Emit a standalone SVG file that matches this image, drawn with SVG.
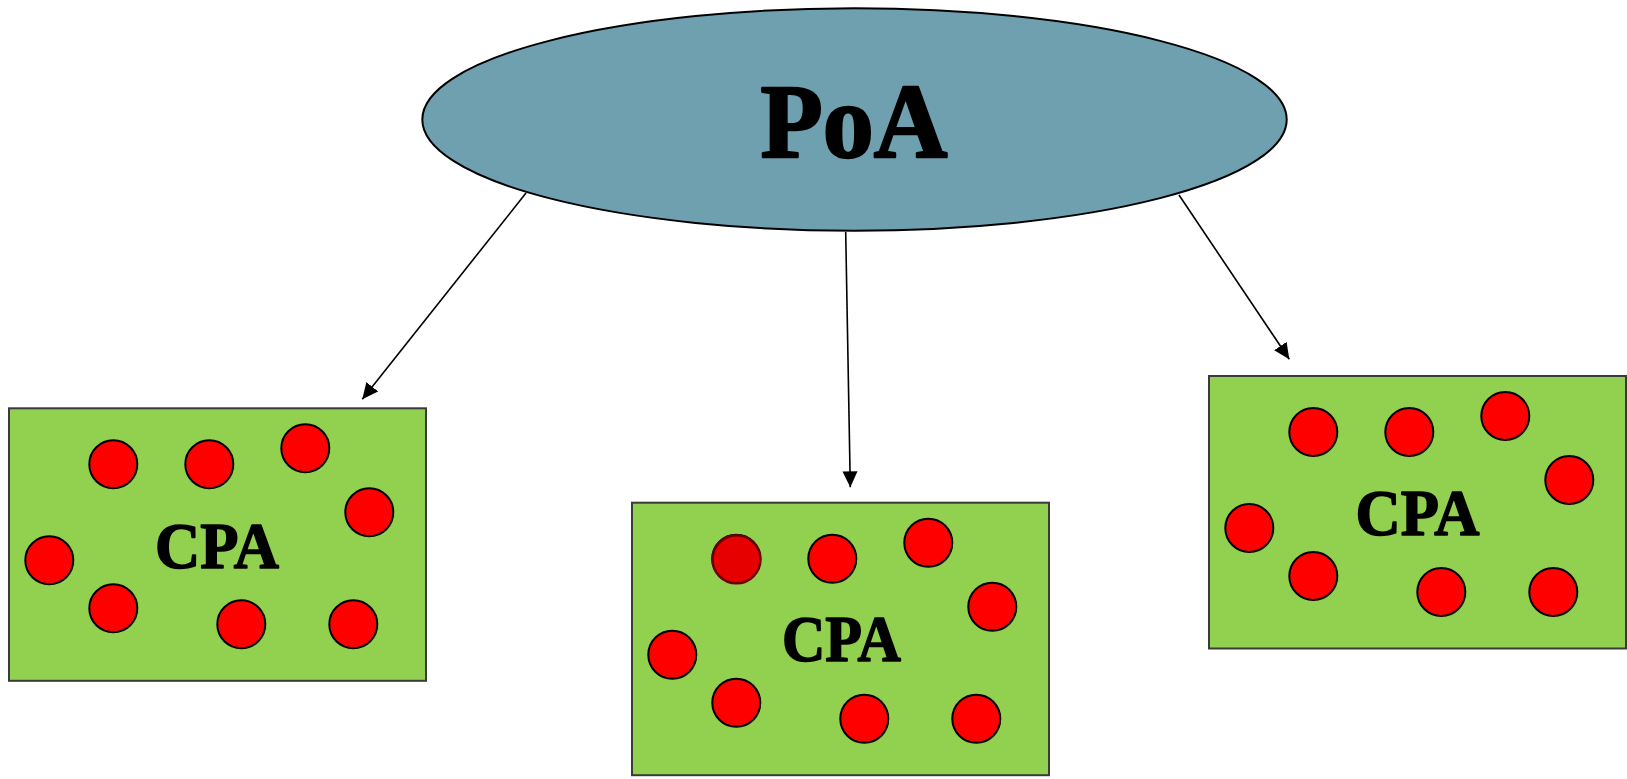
<svg xmlns="http://www.w3.org/2000/svg" width="1627" height="779" viewBox="0 0 1627 779">
<style>
.box{fill:#92d050;stroke:#3a3a3a;stroke-width:2}
.dot{fill:#ff0000;stroke:#000;stroke-width:2}
.lbl{font-family:"Liberation Serif","Times New Roman",serif;font-weight:bold;fill:#000;stroke:#000;text-anchor:middle;stroke-linejoin:round}
.conn{stroke:#000;stroke-width:1.6;fill:none}
</style>
<defs>
<marker id="ah" markerUnits="userSpaceOnUse" markerWidth="16" markerHeight="16" refX="16" refY="7.5" orient="auto">
<path d="M0,0 L16,7.5 L0,15 z" fill="#000"/>
</marker>
<g id="cpa-body">
<rect class="box" x="0" y="0" width="417" height="272.5"/>
<circle class="dot" cx="104.3" cy="56" r="24"/>
<circle class="dot" cx="200.3" cy="56" r="24"/>
<circle class="dot" cx="296.3" cy="40" r="24"/>
<circle class="dot" cx="360.3" cy="104" r="24"/>
<circle class="dot" cx="40.3" cy="152" r="24"/>
<circle class="dot" cx="104.3" cy="200" r="24"/>
<circle class="dot" cx="232.3" cy="216" r="24"/>
<circle class="dot" cx="344.3" cy="216" r="24"/>
</g>
</defs>
<g id="connectors">
<line class="conn" x1="526" y1="193" x2="362.3" y2="399.3" marker-end="url(#ah)"/>
<line class="conn" x1="845.7" y1="232" x2="850.3" y2="487.3" marker-end="url(#ah)"/>
<line class="conn" x1="1179" y1="195" x2="1289.3" y2="359.3" marker-end="url(#ah)"/>
</g>
<g id="poa">
<ellipse cx="854.5" cy="119.5" rx="432.2" ry="111.2" fill="#6fa0b0" stroke="#000" stroke-width="2"/>
<text class="lbl" x="854" y="156.5" font-size="106" stroke-width="2.4" textLength="187" lengthAdjust="spacingAndGlyphs">PoA</text>
</g>
<g id="cpa-left" transform="translate(9,408.3)">
<use href="#cpa-body"/>
<text class="lbl" x="208" y="159.5" font-size="65" stroke-width="1.6" textLength="124" lengthAdjust="spacingAndGlyphs">CPA</text>
</g>
<g id="cpa-middle" transform="translate(632,502.7)">
<use href="#cpa-body"/>
<circle cx="104.5" cy="56.6" r="24" fill="#e60000" stroke="#6a0000" stroke-width="2.5"/>
<text class="lbl" x="209.4" y="158.8" font-size="65" stroke-width="1.6" textLength="119" lengthAdjust="spacingAndGlyphs">CPA</text>
</g>
<g id="cpa-right" transform="translate(1209,376)">
<use href="#cpa-body"/>
<text class="lbl" x="208.5" y="159.2" font-size="65" stroke-width="1.6" textLength="124" lengthAdjust="spacingAndGlyphs">CPA</text>
</g>
</svg>
